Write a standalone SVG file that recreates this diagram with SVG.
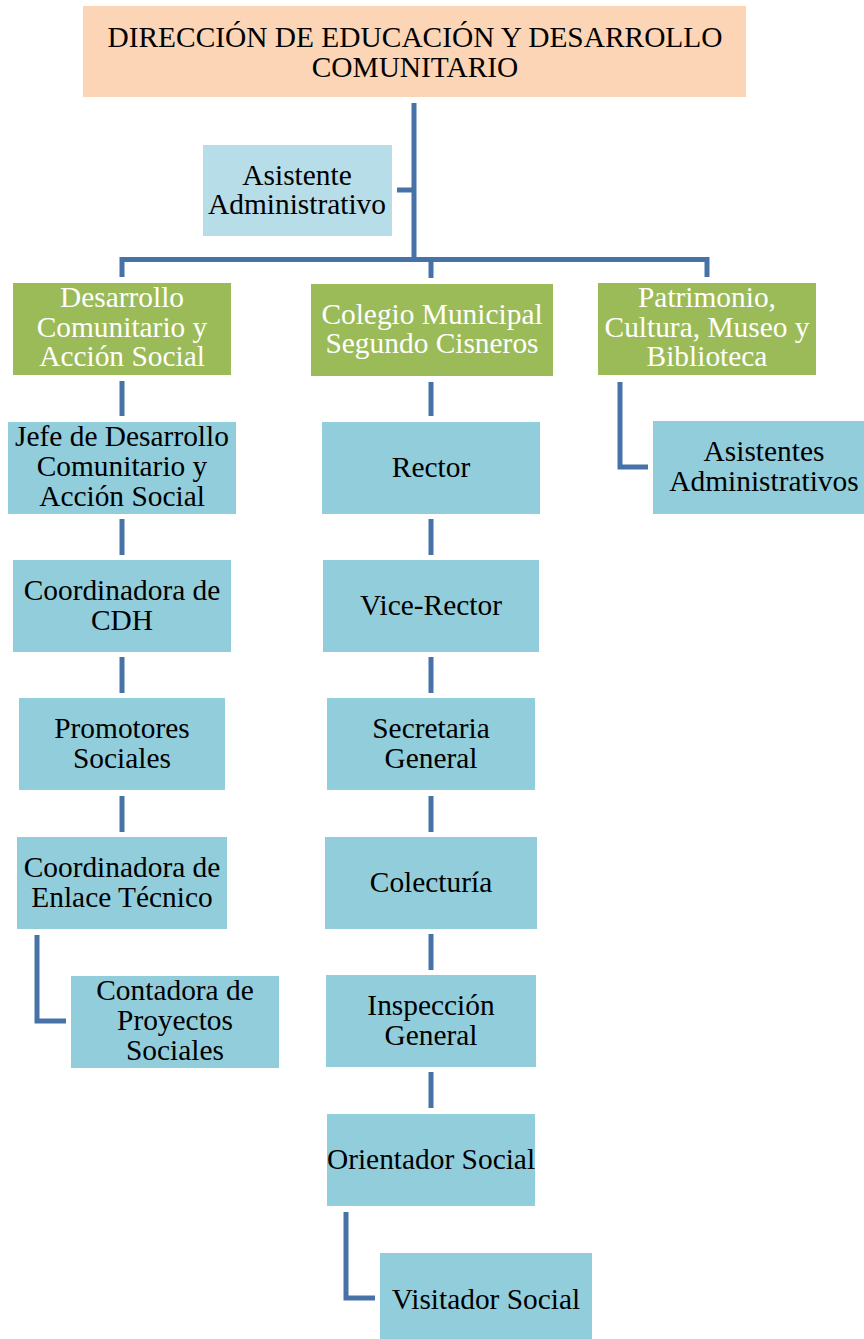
<svg xmlns="http://www.w3.org/2000/svg" width="864" height="1339" viewBox="0 0 864 1339">
<style>
.t{font-family:"Liberation Serif","Times New Roman",serif;font-size:29.4px;text-anchor:middle;fill:#000}
.w{fill:#fff}
.blue{fill:#92cddc}
.green{fill:#9bbb59}
.conn{fill:none;stroke:#4672a8;stroke-width:5;stroke-linejoin:miter}
</style>
<rect width="864" height="1339" fill="#fff"/>
<g id="connectors" class="conn">
<path d="M414 103 V262"/>
<path d="M122 277 V259.5 H707 V277"/>
<path d="M431 259 V278"/>
<path d="M397 190 H414"/>
<path d="M122 381 V416"/>
<path d="M122 519 V555"/>
<path d="M122 657 V693"/>
<path d="M122 796 V832"/>
<path d="M37 935 V1021 H66"/>
<path d="M431 382 V416"/>
<path d="M431 519 V555"/>
<path d="M431 657 V693"/>
<path d="M431 796 V832"/>
<path d="M431 934 V970"/>
<path d="M431 1072 V1108"/>
<path d="M346 1212 V1298 H375"/>
<path d="M620 382 V467 H648"/>
</g>
<g id="direccion">
<rect x="83" y="6" width="663" height="91" fill="#fbd5b5"/>
<text class="t" x="415" y="47">DIRECCIÓN DE EDUCACIÓN Y DESARROLLO</text>
<text class="t" x="415" y="77">COMUNITARIO</text>
</g>
<g id="asistente">
<rect x="203" y="145" width="189" height="91" fill="#b7dde8"/>
<text class="t" x="297" y="185">Asistente</text>
<text class="t" x="297" y="214">Administrativo</text>
</g>
<g id="desarrollo">
<rect class="green" x="13" y="283" width="218" height="92"/>
<text class="t w" x="122" y="307">Desarrollo</text>
<text class="t w" x="122" y="337">Comunitario y</text>
<text class="t w" x="122" y="366">Acción Social</text>
</g>
<g id="colegio">
<rect class="green" x="311" y="284" width="242" height="92"/>
<text class="t w" x="432" y="324">Colegio Municipal</text>
<text class="t w" x="432" y="353">Segundo Cisneros</text>
</g>
<g id="patrimonio">
<rect class="green" x="598" y="283" width="218" height="92"/>
<text class="t w" x="707" y="307">Patrimonio,</text>
<text class="t w" x="707" y="337">Cultura, Museo y</text>
<text class="t w" x="707" y="366">Biblioteca</text>
</g>
<g id="jefe">
<rect class="blue" x="8" y="422" width="228" height="92"/>
<text class="t" x="122" y="446">Jefe de Desarrollo</text>
<text class="t" x="122" y="476">Comunitario y</text>
<text class="t" x="122" y="506">Acción Social</text>
</g>
<g id="cdh">
<rect class="blue" x="13" y="560" width="218" height="92"/>
<text class="t" x="122" y="600">Coordinadora de</text>
<text class="t" x="122" y="630">CDH</text>
</g>
<g id="promotores">
<rect class="blue" x="19" y="698" width="206" height="92"/>
<text class="t" x="122" y="738">Promotores</text>
<text class="t" x="122" y="768">Sociales</text>
</g>
<g id="enlace">
<rect class="blue" x="17" y="837" width="210" height="92"/>
<text class="t" x="122" y="877">Coordinadora de</text>
<text class="t" x="122" y="907">Enlace Técnico</text>
</g>
<g id="contadora">
<rect class="blue" x="71" y="976" width="208" height="92"/>
<text class="t" x="175" y="1000">Contadora de</text>
<text class="t" x="175" y="1030">Proyectos</text>
<text class="t" x="175" y="1060">Sociales</text>
</g>
<g id="rector">
<rect class="blue" x="322" y="422" width="218" height="92"/>
<text class="t" x="431" y="477">Rector</text>
</g>
<g id="vicerrector">
<rect class="blue" x="323" y="560" width="216" height="92"/>
<text class="t" x="431" y="615">Vice-Rector</text>
</g>
<g id="secretaria">
<rect class="blue" x="327" y="698" width="208" height="92"/>
<text class="t" x="431" y="738">Secretaria</text>
<text class="t" x="431" y="768">General</text>
</g>
<g id="colecturia">
<rect class="blue" x="325" y="837" width="212" height="92"/>
<text class="t" x="431" y="892">Colecturía</text>
</g>
<g id="inspeccion">
<rect class="blue" x="326" y="975" width="210" height="92"/>
<text class="t" x="431" y="1015">Inspección</text>
<text class="t" x="431" y="1045">General</text>
</g>
<g id="orientador">
<rect class="blue" x="327" y="1114" width="208" height="92"/>
<text class="t" x="431" y="1169">Orientador Social</text>
</g>
<g id="visitador">
<rect class="blue" x="380" y="1253" width="212" height="86"/>
<text class="t" x="486" y="1309">Visitador Social</text>
</g>
<g id="asistentes">
<rect class="blue" x="653" y="421" width="211" height="93"/>
<text class="t" x="764" y="461">Asistentes</text>
<text class="t" x="764" y="491">Administrativos</text>
</g>
</svg>
